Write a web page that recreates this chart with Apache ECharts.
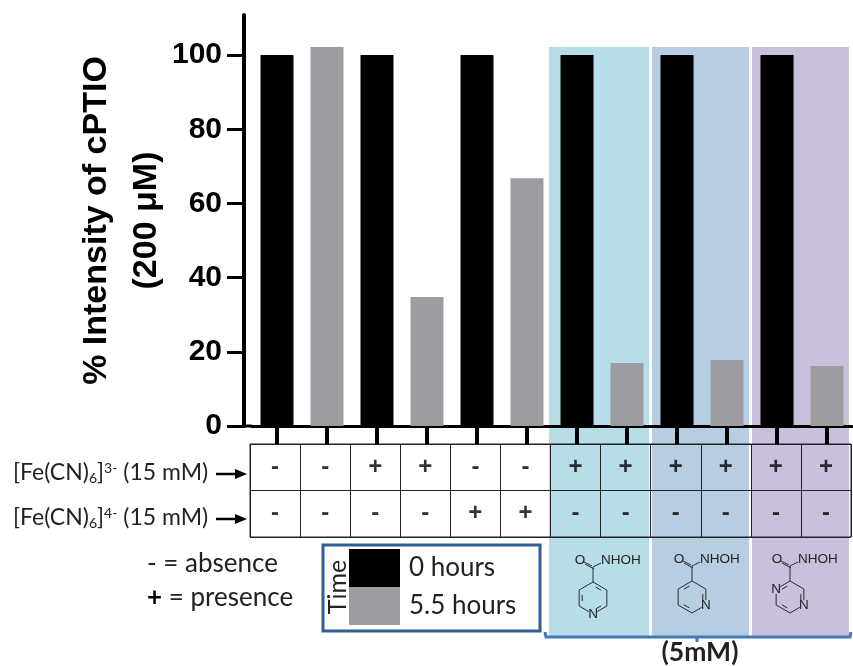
<!DOCTYPE html>
<html><head><meta charset="utf-8">
<style>html,body{margin:0;padding:0;background:#fff}#c{width:853px;height:666px}</style>
<script src="https://cdn.jsdelivr.net/npm/echarts@6/dist/echarts.min.js"></script>
</head><body><div id="c"></div>
<script>
var categories = ['A1','A2','B1','B2','C1','C2','D1','D2','E1','E2','F1','F2'];
var hours0 = [100,null,100,null,100,null,100,null,100,null,100,null];
var hours55 = [null,102.2,null,34.8,null,66.8,null,17,null,17.8,null,16.2];
var yTicks = [0,20,40,60,80,100];
var fe3 = ['-','-','+','+','-','-','+','+','+','+','+','+'];
var fe4 = ['-','-','-','-','+','+','-','-','-','-','-','-'];
var rowNames = ['fe3','fe4'];
var BODY = 'Lato', HEAD = '"Liberation Sans"';
var inkLine = '#2b2b3a';

function tableData(){
  var d = [];
  fe3.forEach(function(v,i){ d.push({value:[i,0],mark:v}); });
  fe4.forEach(function(v,i){ d.push({value:[i,1],mark:v}); });
  return d;
}
function seg(x1,y1,x2,y2,w,c,z){
  return {type:'line',silent:true,z:z==null?5:z,shape:{x1:x1,y1:y1,x2:x2,y2:y2},style:{stroke:c||inkLine,lineWidth:w||1}};
}
function txt(x,y,t,size,opt){
  opt=opt||{};
  return {type:'text',silent:true,z:6,x:x,y:y,rotation:opt.rot||0,style:{text:t,fill:opt.c||'#222',font:(opt.w||'normal')+' '+size+'px '+(opt.f||BODY),textAlign:opt.a||'left',textVerticalAlign:'middle',rich:opt.rich}};
}
function structure(cx,cy,kind){
  var out=[], r=16, ry=cy+31, pts=[];
  for(var k=0;k<6;k++){ var a=(-90+60*k)*Math.PI/180; pts.push([cx+r*Math.cos(a),ry+r*Math.sin(a)]); }
  var nAt = kind===1?[3]:kind===2?[2]:[2,5];
  function gap(i){ return nAt.indexOf(i)>=0; }
  for(var i=0;i<6;i++){
    var p=pts[i], q=pts[(i+1)%6], x1=p[0],y1=p[1],x2=q[0],y2=q[1];
    if(gap(i)){x1=p[0]+(q[0]-p[0])*0.3;y1=p[1]+(q[1]-p[1])*0.3;}
    if(gap((i+1)%6)){x2=p[0]+(q[0]-p[0])*0.7;y2=p[1]+(q[1]-p[1])*0.7;}
    out.push(seg(x1,y1,x2,y2,1));
    if(i%2===(kind===1?0:1)){
      var mx=cx, my=ry, f=0.78;
      var ax=p[0]+(q[0]-p[0])*0.25, ay=p[1]+(q[1]-p[1])*0.25, bx=p[0]+(q[0]-p[0])*0.75, by=p[1]+(q[1]-p[1])*0.75;
      out.push(seg(mx+(ax-mx)*f,my+(ay-my)*f,mx+(bx-mx)*f,my+(by-my)*f,1));
    }
  }
  nAt.forEach(function(i){ out.push(txt(pts[i][0],pts[i][1],'N',13.5,{a:'center',f:'"Liberation Sans"'})); });
  out.push(seg(cx,cy,pts[0][0],pts[0][1],1));
  out.push(seg(cx,cy,cx+8,cy-4,1));
  out.push(seg(cx-1,cy-1,cx-9,cy-5,1));
  out.push(seg(cx+1,cy+2,cx-8,cy-3,1));
  out.push(txt(cx-13,cy-7,'O',13.5,{a:'center',f:'"Liberation Sans"'}));
  out.push(txt(cx+8,cy-7,'NHOH',13.5,{f:'"Liberation Sans"'}));
  return out;
}
function arrow(y){
  return [seg(216,y,240,y,2.5,'#000'),
    {type:'polygon',silent:true,z:5,shape:{points:[[235,y-5],[247,y],[235,y+5]]},style:{fill:'#000'}}];
}
function feLabel(y,ch){
  return {type:'text',silent:true,z:6,x:13,y:y,style:{
    text:'[Fe(CN){sub|6}]{sup|'+ch+'} (15 mM)',fill:'#222',font:'23px '+BODY,textVerticalAlign:'middle',
    rich:{sub:{fontSize:14,fontFamily:BODY,fill:'#222',padding:[10,0,0,0]},sup:{fontSize:14,fontFamily:BODY,fill:'#222',padding:[0,0,10,0]}}}};
}

var graphic = [
  {type:'rect',silent:true,z:-10,shape:{x:549,y:47,width:100,height:589},style:{fill:'#b7dde6'}},
  {type:'rect',silent:true,z:-10,shape:{x:652,y:47,width:97,height:589},style:{fill:'#b7cde2'}},
  {type:'rect',silent:true,z:-10,shape:{x:752,y:47,width:97,height:589},style:{fill:'#c9c1dc'}},
  seg(243,426,252,426,3,'#000'),
  {type:'rect',silent:true,z:4,shape:{x:323,y:545,width:217,height:86},style:{fill:'none',stroke:'#2f5f94',lineWidth:3}},
  txt(338,587,'Time',25,{a:'center',rot:Math.PI/2}),
  txt(147,564,'- = absence',26),
  txt(147,598,'{b|+} = presence',26,{rich:{b:{fontFamily:BODY,fontWeight:'bold',fontSize:26,fill:'#000'}}}),
  feLabel(473,'3-'), feLabel(518,'4-'),
  {type:'polyline',silent:true,z:5,shape:{points:[[545,632],[546,637],[697,637],[697,642],[697,637],[850,637],[851,632]]},style:{stroke:'#3f7ab8',lineWidth:3,fill:'none'}},
  txt(700,652,'(5mM)',26.5,{a:'center',w:'bold'})
].concat(arrow(474),arrow(519),structure(593,567,1),structure(692,566,2),structure(790,566,3));

var chart = echarts.init(document.getElementById('c'),null,{renderer:'canvas'});
chart.setOption({
  animation:false,
  backgroundColor:'#fff',
  textStyle:{fontFamily:BODY},
  graphic:{elements:graphic},
  legend:{
    show:true,left:349,top:549,orient:'vertical',itemWidth:51,itemHeight:38,itemGap:0,selectedMode:false,
    icon:'rect',data:['0 hours','5.5 hours'],
    textStyle:{fontFamily:BODY,fontSize:26,color:'#222',padding:[0,0,0,4]},
    padding:0
  },
  grid:[
    {left:252,width:600,top:15,height:411,containLabel:false},
    {left:250,width:601,top:444,height:93,show:true,borderColor:'#222',borderWidth:1,backgroundColor:'transparent'}
  ],
  xAxis:[
    {type:'category',gridIndex:0,data:categories,
      axisLine:{lineStyle:{color:'#000',width:3}},
      axisTick:{show:true,alignWithLabel:true,length:18,lineStyle:{color:'#000',width:4}},
      axisLabel:{show:false},splitLine:{show:false}},
    {type:'category',gridIndex:1,position:'top',data:categories,
      axisLine:{show:false},axisTick:{show:false},axisLabel:{show:false},
      splitLine:{show:true,interval:0,lineStyle:{color:'#222',width:1}}}
  ],
  yAxis:[
    {type:'value',gridIndex:0,min:0,max:110.8,offset:8,
      name:'% Intensity of cPTIO\n(200 μM)',nameLocation:'middle',nameGap:72,nameRotate:90,nameMoveOverlap:false,
      nameTextStyle:{fontFamily:HEAD,fontWeight:'bold',fontSize:34,color:'#000',lineHeight:50},
      axisLine:{show:true,lineStyle:{color:'#000',width:4}},
      axisTick:{show:true,length:17,lineStyle:{color:'#000',width:3},customValues:yTicks},
      axisLabel:{show:true,customValues:yTicks,fontFamily:HEAD,fontWeight:'bold',fontSize:30,color:'#000',margin:22},
      splitLine:{show:false}},
    {type:'category',gridIndex:1,inverse:true,data:rowNames,
      axisLine:{show:false},axisTick:{show:false},axisLabel:{show:false},
      splitLine:{show:true,interval:0,lineStyle:{color:'#222',width:1}}}
  ],
  series:[
    {name:'0 hours',type:'bar',xAxisIndex:0,yAxisIndex:0,stack:'t',barWidth:33,data:hours0,itemStyle:{color:'#000'}},
    {name:'5.5 hours',type:'bar',xAxisIndex:0,yAxisIndex:0,stack:'t',barWidth:33,data:hours55,itemStyle:{color:'#9d9da1'}},
    {name:'marks',type:'scatter',xAxisIndex:1,yAxisIndex:1,symbolSize:1,silent:true,data:tableData(),
      itemStyle:{color:'rgba(0,0,0,0)'},
      label:{show:true,position:'inside',fontFamily:HEAD,fontWeight:'bold',fontSize:24,color:'#000',
        formatter:function(p){return p.data.mark;}}}
  ]
});
</script></body></html>
